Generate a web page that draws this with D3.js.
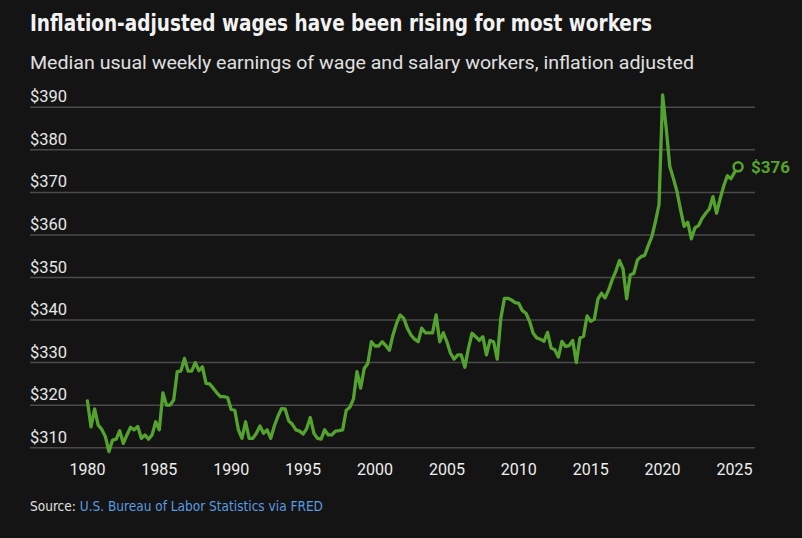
<!doctype html>
<html lang="en">
<head>
    <meta charset="UTF-8">
    <title>Inflation-adjusted wages</title>
    <script src="https://cdnjs.cloudflare.com/ajax/libs/d3/7.8.5/d3.min.js"></script>
    <style>
        html, body {
            margin: 0;
            padding: 0;
            background: #141414;
            overflow: hidden;
        }
        svg text { font-family: "Roboto", "Liberation Sans", sans-serif; }
    </style>
</head>
<body>
<svg id="chart" width="802" height="538"></svg>
<script>
    // quarterly series, first quarter at startYear
    const startYear = 1980;
    const wages = [
        321.0, 314.9, 319.1, 315.3, 314.3, 312.6, 309.1, 311.8, 312.0, 314.0,
        311.0, 313.0, 314.8, 314.2, 315.0, 312.2, 313.0, 312.0, 313.0, 316.1,
        314.2, 322.9, 320.0, 320.0, 321.2, 327.9, 328.0, 331.0, 328.0, 328.0,
        330.0, 328.1, 329.0, 325.1, 325.0, 324.0, 322.9, 322.0, 322.0, 321.8,
        319.0, 318.8, 314.2, 312.2, 316.1, 312.2, 312.2, 313.4, 315.1, 313.4,
        314.2, 312.2, 315.1, 317.4, 319.2, 319.1, 316.3, 315.5, 314.2, 313.9,
        313.2, 314.5, 317.1, 313.4, 312.2, 312.0, 314.2, 313.0, 313.0, 313.9,
        314.0, 314.2, 318.8, 319.5, 321.4, 327.9, 324.0, 328.6, 329.8, 334.9,
        333.9, 333.9, 334.9, 334.0, 332.9, 336.5, 339.2, 341.2, 340.4, 338.1,
        336.5, 335.5, 334.9, 338.1, 337.0, 337.0, 337.0, 341.2, 334.9, 337.0,
        334.9, 332.2, 330.8, 331.8, 331.8, 328.9, 333.4, 336.9, 336.1, 335.2,
        336.1, 331.8, 335.2, 334.9, 330.8, 340.4, 345.1, 345.1, 344.7, 344.1,
        343.9, 342.2, 341.6, 339.7, 336.9, 335.8, 335.5, 335.0, 337.1, 333.4,
        333.0, 331.3, 335.0, 333.8, 334.0, 335.2, 330.0, 335.8, 336.2, 341.0,
        339.7, 340.2, 344.9, 346.3, 345.2, 347.1, 349.5, 351.5, 354.0, 352.0,
        345.0, 350.6, 351.0, 354.1, 354.9, 355.2, 357.5, 359.6, 363.1, 367.1,
        392.9, 385.1, 376.1, 373.3, 370.2, 365.9, 362.0, 363.0, 359.1, 361.7,
        362.2, 363.9, 365.1, 366.1, 369.0, 365.1, 368.5, 371.5, 373.9, 373.2,
        374.7, 376.0
    ];
    const yTicks = [310, 320, 330, 340, 350, 360, 370, 380, 390];
    const xTicks = [1980, 1985, 1990, 1995, 2000, 2005, 2010, 2015, 2020, 2025];
    const lastLabel = "$376";

    const green = "#55a32f";
    const svg = d3.select("#chart");

    const x = d3.scaleLinear().domain([1980, 2025]).range([87.4, 734.5]);
    const y = d3.scaleLinear().domain([310, 390]).range([447.7, 107.3]);

    const data = wages.map((v, i) => ({t: startYear + i / 4, v: v}));

    // title + subtitle
    svg.append("text")
        .attr("x", 30).attr("y", 31)
        .attr("fill", "#f2f2f2")
        .style("font-family", "'Liberation Sans Narrow', 'DejaVu Sans Condensed', sans-serif")
        .style("font-weight", "bold")
        .style("font-size", "23px")
        .attr("textLength", 622).attr("lengthAdjust", "spacingAndGlyphs")
        .text("Inflation-adjusted wages have been rising for most workers");

    svg.append("text")
        .attr("x", 30).attr("y", 69)
        .attr("fill", "#e0e0e0")
        .style("font-size", "18px")
        .attr("textLength", 664).attr("lengthAdjust", "spacingAndGlyphs")
        .text("Median usual weekly earnings of wage and salary workers, inflation adjusted");

    // y grid and labels
    const yAxis = svg.append("g").attr("class", "axis axis--y");
    yAxis.selectAll("line")
        .data(yTicks)
        .enter().append("line")
        .attr("x1", 30).attr("x2", 755)
        .attr("y1", d => y(d)).attr("y2", d => y(d))
        .attr("stroke", "#4a4a4a")
        .attr("stroke-width", 1.5);
    yAxis.selectAll("text")
        .data(yTicks)
        .enter().append("text")
        .attr("x", 30)
        .attr("y", d => y(d) - 5)
        .attr("fill", "#e6e6e6")
        .style("font-size", "16.5px")
        .text(d => "$" + d);

    // x labels
    svg.append("g").attr("class", "axis axis--x")
        .selectAll("text")
        .data(xTicks)
        .enter().append("text")
        .attr("x", d => x(d))
        .attr("y", 475)
        .attr("text-anchor", "middle")
        .attr("fill", "#eeeeee")
        .style("font-size", "16px")
        .text(d => d);

    // the line
    const line = d3.line()
        .x(d => x(d.t))
        .y(d => y(d.v));

    svg.append("path")
        .datum(data)
        .attr("d", line)
        .attr("fill", "none")
        .attr("stroke", green)
        .attr("stroke-width", 3.3)
        .attr("stroke-linejoin", "round")
        .attr("stroke-linecap", "round");

    const last = data[data.length - 1];
    svg.append("circle")
        .attr("cx", x(last.t)).attr("cy", y(last.v))
        .attr("r", 4.5)
        .attr("fill", "#141414")
        .attr("stroke", green)
        .attr("stroke-width", 2.5);
    svg.append("text")
        .attr("x", x(last.t) + 13)
        .attr("y", y(last.v) + 6)
        .attr("fill", green)
        .style("font-weight", "bold")
        .style("font-size", "17px")
        .text(lastLabel);

    // source
    const src = svg.append("text")
        .attr("x", 30).attr("y", 511)
        .style("font-family", "'Liberation Sans Narrow', 'DejaVu Sans Condensed', sans-serif")
        .style("font-size", "13.5px")
        .attr("textLength", 293).attr("lengthAdjust", "spacingAndGlyphs");
    src.append("tspan").attr("fill", "#e0e0e0").text("Source: ");
    src.append("tspan").attr("fill", "#5b9be0").text("U.S. Bureau of Labor Statistics via FRED");
</script>
</body>
</html>
